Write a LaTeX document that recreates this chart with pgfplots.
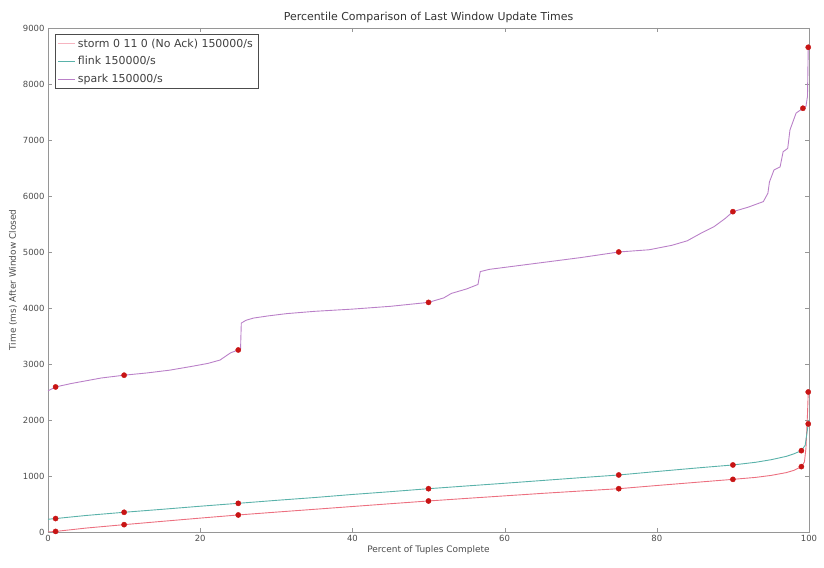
\documentclass[border=0pt]{standalone}
\usepackage{fontspec}
\setmainfont{DejaVu Sans}
\usepackage{pgfplots}
\pgfplotsset{compat=1.18}
\usetikzlibrary{calc}
\definecolor{stormc}{RGB}{236,112,128}
\definecolor{stormleg}{RGB}{246,180,192}
\definecolor{flinkc}{RGB}{90,178,170}
\definecolor{sparkc}{RGB}{186,128,200}
\definecolor{dotc}{RGB}{200,20,20}
\definecolor{framec}{RGB}{150,150,150}
\begin{document}
\begin{tikzpicture}[x=1bp,y=1bp]
\begin{axis}[
  scale only axis,
  width=761bp, height=504bp,
  xmin=0, xmax=100, ymin=0, ymax=9000,
  xtick={0,20,40,60,80,100},
  ytick={0,1000,2000,3000,4000,5000,6000,7000,8000,9000},
  tick align=inside,
  major tick length=4bp,
  axis line style={framec, line width=0.9pt},
  tick style={framec},
  every tick label/.style={font=\fontsize{8.5}{9}\selectfont, text=black!70},
  /pgf/number format/assume math mode=true,
  /pgf/number format/1000 sep={},
  scaled y ticks=false,
  title={Percentile Comparison of Last Window Update Times},
  title style={font=\fontsize{11}{12}\selectfont, text=black!80, yshift=-4bp},
  xlabel={Percent of Tuples Complete},
  ylabel={Time (ms) After Window Closed},
  label style={font=\fontsize{9}{10}\selectfont, text=black!70},
  xlabel style={yshift=3bp},
  ylabel style={yshift=-1bp},
  legend style={at={(0.009,0.988)}, anchor=north west, draw=black!70, font=\fontsize{11}{12}\selectfont, text=black!75, row sep=4pt, inner sep=3pt, inner ysep=2.5pt},
  legend cell align=left,
]
\addlegendimage{stormleg, line width=0.9pt}
\addlegendentry{storm 0 11 0 (No Ack) 150000/s}
\addlegendimage{flinkc, line width=0.9pt}
\addlegendentry{flink 150000/s}
\addlegendimage{sparkc, line width=0.9pt}
\addlegendentry{spark 150000/s}
% storm
\addplot[stormc, line width=0.9pt, forget plot] coordinates {
(0,0) (1,10) (5,70) (10,131) (15,190) (20,248) (25,304) (30,355) (35,405) (40,455) (45,505) (50,554) (55,600) (60,645) (65,690) (70,732) (75,773) (80,830) (85,885) (90,940) (93,975) (95,1010) (97,1060) (98,1100) (99,1167) (99.4,1250) (99.6,1500) (99.8,2100) (99.9,2500) (100,2520)};
% flink
\addplot[flinkc, line width=0.9pt, forget plot] coordinates {
(0,227) (1,240) (5,295) (10,352) (15,405) (20,460) (25,512) (30,565) (35,615) (40,670) (45,720) (50,773) (55,822) (60,870) (65,920) (70,970) (75,1018) (80,1080) (85,1140) (90,1197) (93,1245) (95,1290) (97,1350) (98,1395) (99,1452) (99.5,1550) (99.9,1930) (100,2000)};
% spark
\addplot[sparkc, line width=0.9pt, forget plot] coordinates {
(0,2520) (1,2590) (3,2650) (5,2700) (7,2750) (10,2800) (13,2840) (16,2890) (19,2960) (21,3010) (22.6,3070) (24,3200) (25,3250) (25.3,3260) (25.4,3730) (26,3780) (27,3820) (29,3860) (31.4,3900) (35,3940) (40,3980) (45,4030) (50,4100) (52,4180) (53,4260) (55,4340) (56.5,4420) (56.8,4650) (58,4690) (62,4760) (66,4830) (70,4900) (75,5000) (79,5040) (82,5120) (84,5200) (86,5350) (87.5,5450) (89,5600) (90,5720) (92,5800) (94,5900) (94.6,6050) (94.8,6250) (95.4,6465) (96.2,6520) (96.6,6790) (97.2,6850) (97.5,7180) (98.3,7480) (99.2,7567) (99.6,7600) (99.8,7780) (99.9,8656) (100,8700)};
% markers
\addplot[only marks, mark=*, mark size=2.6bp, dotc, forget plot] coordinates {
(1,10) (10,131) (25,304) (50,554) (75,773) (90,940) (99,1167) (99.9,2500)};
\addplot[only marks, mark=*, mark size=2.6bp, dotc, forget plot] coordinates {
(1,240) (10,352) (25,512) (50,773) (75,1018) (90,1197) (99,1452) (99.9,1930)};
\addplot[only marks, mark=*, mark size=2.6bp, dotc, forget plot] coordinates {
(1,2590) (10,2800) (25,3250) (50,4100) (75,5000) (90,5720) (99.2,7567) (99.9,8656)};
\end{axis}
\useasboundingbox ($(current axis.south west)+(-48bp,-36bp)$) rectangle ($(current axis.north east)+(15bp,28bp)$);
\end{tikzpicture}
\end{document}
